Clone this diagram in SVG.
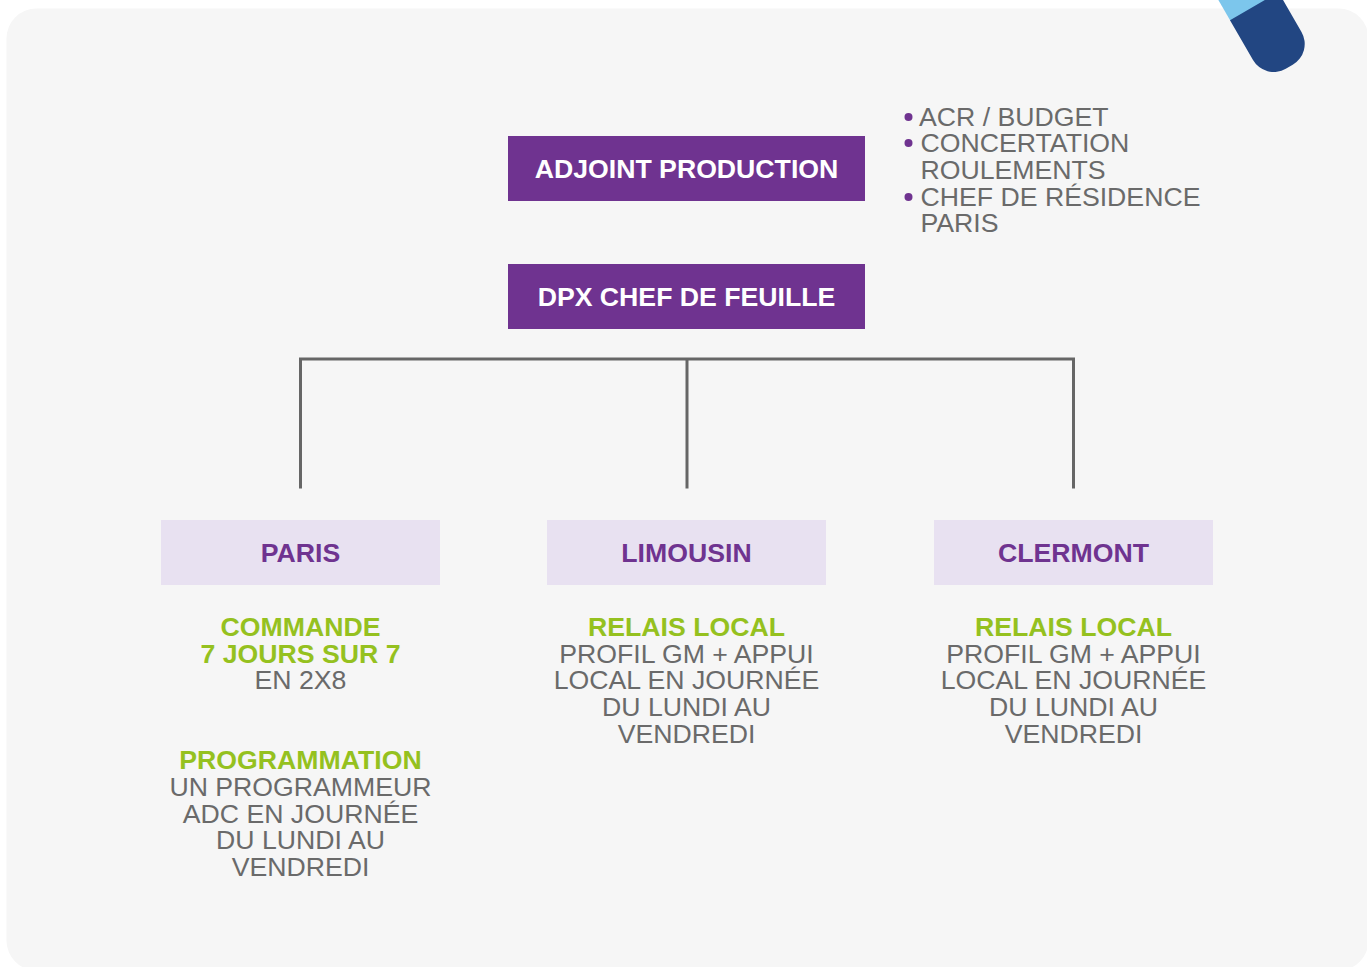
<svg xmlns="http://www.w3.org/2000/svg" width="1367" height="967" viewBox="0 0 1367 967">
<style>
text{font-family:"Liberation Sans",Arial,sans-serif;font-size:26.670px;fill:#6a6a6a}
.m{text-anchor:middle}
.w{font-weight:700;fill:#ffffff}
.p{font-weight:700;fill:#6f3390}
.g{font-weight:700;fill:#95c11f}
.box{fill:#6f3390}
.lt{fill:#e8e1f1}
.dot{fill:#6f3390}
.c{fill:none;stroke:#666666;stroke-width:3}
</style>
<rect width="1367" height="967" fill="#ffffff"/>
<rect id="card" x="6.500" y="8.500" width="1362" height="962" rx="30" fill="#f6f6f6"/>
<g id="capsule" transform="translate(1230.500 21) rotate(-30)">
<rect x="0" y="-50" width="56" height="50" fill="#7cc6ec"/>
<path d="M0 -1H56V45a24 24 0 0 1-24 24H24a24 24 0 0 1-24-24Z" fill="#224682"/>
</g>
<g id="connectors">
<path class="c" d="M300.500 488.500V359H1073.500V488.500M687 359V488.500"/>
</g>
<g id="adjoint">
<rect class="box" x="508" y="136" width="357" height="65"/>
<text class="w m" x="686.500" y="177.600">ADJOINT PRODUCTION</text>
</g>
<g id="dpx">
<rect class="box" x="508" y="264" width="357" height="65"/>
<text class="w m" x="686.500" y="305.600">DPX CHEF DE FEUILLE</text>
</g>
<g id="notes">
<circle class="dot" cx="908.500" cy="117" r="4"/>
<circle class="dot" cx="908.500" cy="143" r="4"/>
<circle class="dot" cx="908.500" cy="197" r="4"/>
<text x="919" y="125.600">ACR / BUDGET</text>
<text x="920.500" y="151.600">CONCERTATION</text>
<text x="920.500" y="178.600">ROULEMENTS</text>
<text x="920.500" y="205.600">CHEF DE RÉSIDENCE</text>
<text x="920.500" y="231.600">PARIS</text>
</g>
<g id="paris">
<rect class="lt" x="161" y="520" width="279" height="65"/>
<text class="p m" x="300.500" y="561.600">PARIS</text>
<text class="g m" x="300.500" y="635.600">COMMANDE</text>
<text class="g m" x="300.500" y="662.600">7 JOURS SUR 7</text>
<text class="m" x="300.500" y="688.600">EN 2X8</text>
<text class="g m" x="300.500" y="768.600">PROGRAMMATION</text>
<text class="m" x="300.500" y="795.600">UN PROGRAMMEUR</text>
<text class="m" x="300.500" y="822.600">ADC EN JOURNÉE</text>
<text class="m" x="300.500" y="848.600">DU LUNDI AU</text>
<text class="m" x="300.500" y="875.600">VENDREDI</text>
</g>
<g id="limousin">
<rect class="lt" x="547" y="520" width="279" height="65"/>
<text class="p m" x="686.500" y="561.600">LIMOUSIN</text>
<text class="g m" x="686.500" y="635.600">RELAIS LOCAL</text>
<text class="m" x="686.500" y="662.600">PROFIL GM + APPUI</text>
<text class="m" x="686.500" y="688.600">LOCAL EN JOURNÉE</text>
<text class="m" x="686.500" y="715.600">DU LUNDI AU</text>
<text class="m" x="686.500" y="742.600">VENDREDI</text>
</g>
<g id="clermont">
<rect class="lt" x="934" y="520" width="279" height="65"/>
<text class="p m" x="1073.500" y="561.600">CLERMONT</text>
<text class="g m" x="1073.500" y="635.600">RELAIS LOCAL</text>
<text class="m" x="1073.500" y="662.600">PROFIL GM + APPUI</text>
<text class="m" x="1073.500" y="688.600">LOCAL EN JOURNÉE</text>
<text class="m" x="1073.500" y="715.600">DU LUNDI AU</text>
<text class="m" x="1073.500" y="742.600">VENDREDI</text>
</g>
</svg>
